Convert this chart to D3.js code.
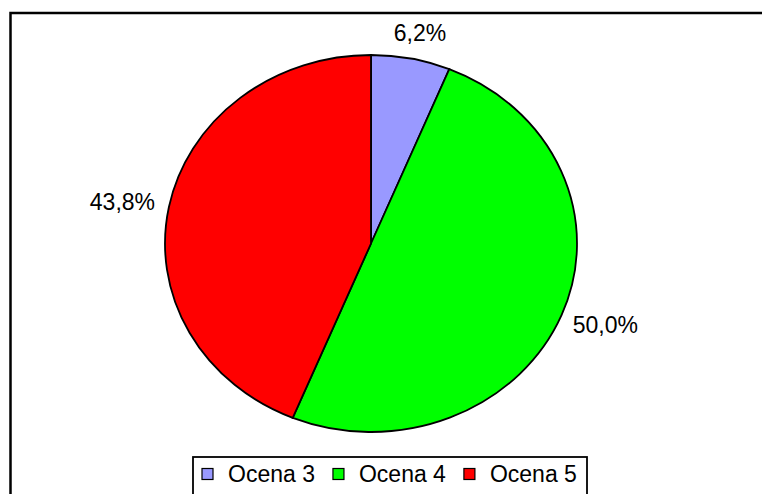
<!DOCTYPE html>
<html>
<head>
<meta charset="utf-8">
<script src="https://cdn.jsdelivr.net/npm/d3@7/dist/d3.min.js"></script>
<style>
  html, body { margin: 0; padding: 0; background: #fff; }
  svg { display: block; font-family: "Liberation Sans", Arial, sans-serif; }
</style>
</head>
<body>
<div id="container"></div>
<script>
// data
const categories = ['Ocena 3', 'Ocena 4', 'Ocena 5'];
const values = [6.2, 50.0, 43.8];
const labels = ['6,2%', '50,0%', '43,8%'];
const colors = ['#9999FF', '#00FF00', '#FF0000'];

const width = 762;
const height = 494;
const cx = 371, cy = 243.5;
const rx = 206, ry = 188.5;

const svg = d3.select('#container')
  .append('svg')
  .attr('width', width)
  .attr('height', height);

// chart frame (runs off right and bottom)
svg.append('rect')
  .attr('x', 10.5).attr('y', 13)
  .attr('width', 900).attr('height', 700)
  .attr('fill', 'none')
  .attr('stroke', '#000')
  .attr('stroke-width', 2.5);

const pie = d3.pie().sort(null).value(d => d);
const arcs = pie(values);
const arc = d3.arc().innerRadius(0).outerRadius(1);

svg.append('g')
  .attr('transform', `translate(${cx},${cy}) scale(${rx},${ry})`)
  .selectAll('path')
  .data(arcs)
  .join('path')
    .attr('d', arc)
    .attr('fill', (d, i) => colors[i])
    .attr('stroke', '#000')
    .attr('stroke-width', 1.8)
    .attr('vector-effect', 'non-scaling-stroke');

// data labels outside the pie
svg.append('g')
  .style('font-size', '23px')
  .selectAll('text')
  .data(arcs)
  .join('text')
    .attr('x', d => cx + rx * 1.23 * Math.sin((d.startAngle + d.endAngle) / 2))
    .attr('y', d => cy - ry * 1.14 * Math.cos((d.startAngle + d.endAngle) / 2))
    .attr('text-anchor', 'middle')
    .attr('dy', '0.36em')
    .attr('fill', '#000')
    .text((d, i) => labels[i]);

// legend
const legend = svg.append('g');
legend.append('rect')
  .attr('x', 193).attr('y', 457)
  .attr('width', 394).attr('height', 80)
  .attr('fill', '#fff')
  .attr('stroke', '#000')
  .attr('stroke-width', 1.8);

let lx = 202;
categories.forEach((c, i) => {
  legend.append('rect')
    .attr('x', lx).attr('y', 468.5)
    .attr('width', 11).attr('height', 11)
    .attr('fill', colors[i])
    .attr('stroke', '#000')
    .attr('stroke-width', 1.2);
  const t = legend.append('text')
    .attr('x', lx + 26)
    .attr('y', 482)
    .style('font-size', '23px')
    .attr('fill', '#000')
    .text(c);
  lx += 26 + t.node().getComputedTextLength() + 18;
});
</script>
</body>
</html>
